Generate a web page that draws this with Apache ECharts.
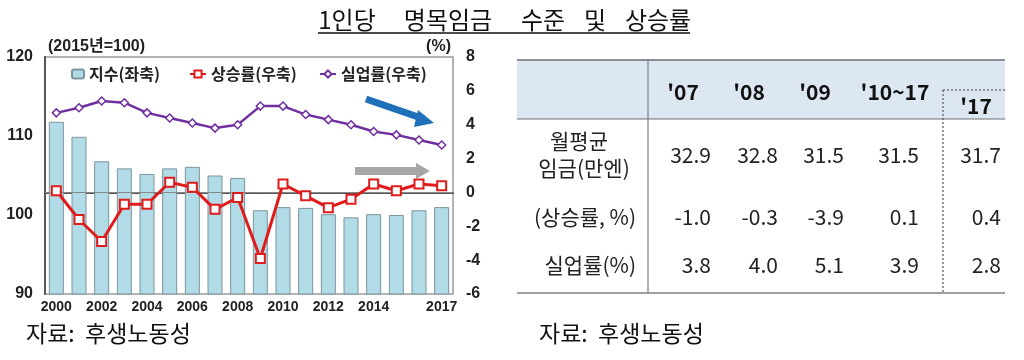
<!DOCTYPE html>
<html>
<head>
<meta charset="utf-8">
<script src="https://cdn.jsdelivr.net/npm/echarts@6/dist/echarts.min.js"></script>
<style>
html,body{margin:0;padding:0;background:#fff;}
#c{width:1024px;height:360px;}
</style>
</head>
<body>
<div id="c"></div>
<script>
// ---- Chart data ----
const years = ['2000','2001','2002','2003','2004','2005','2006','2007','2008','2009','2010','2011','2012','2013','2014','2015','2016','2017'];
const wageIndex = [111.8,109.9,106.8,105.9,105.2,105.9,106.1,105.0,104.7,100.6,101.0,100.9,100.1,99.7,100.1,100.0,100.6,101.0];
const wageGrowth = [0.1,-1.6,-2.9,-0.7,-0.7,0.6,0.3,-1.0,-0.3,-3.9,0.5,-0.2,-0.9,-0.4,0.5,0.1,0.5,0.4];
const unemployment = [4.7,5.0,5.4,5.3,4.7,4.4,4.1,3.8,4.0,5.1,5.1,4.6,4.3,4.0,3.6,3.4,3.1,2.8];
const leftTicks = {min:90, max:120, interval:10};
const rightTicks = {min:-6, max:8, interval:2};
const shownYearLabels = ['2000','2002','2004','2006','2008','2010','2012','2014','2017'];

// ---- Table data ----
const tableCols = ["'07","'08","'09","'10~17","'17"];
const rowWage = [32.9,32.8,31.5,31.5,31.7];
const rowGrowth = [-1.0,-0.3,-3.9,0.1,0.4];
const rowUnemp = [3.8,4.0,5.1,3.9,2.8];
const rowLabels = [['월평균','임금(만엔)'],['(상승률, %)'],['실업률(%)']];

const titleWords = ['1인당','명목임금','수준','및','상승률'];
const source = '자료:  후생노동성';

const KR = '"Noto Sans CJK KR", "Noto Sans", sans-serif';
const LAT = '"Liberation Sans", Arial, "Noto Sans CJK KR", sans-serif';

const chart = echarts.init(document.getElementById('c'), null, {renderer:'canvas'});

// table graphics
const colCenters = [683, 749, 815, 895, 976];
const colRight = [711, 778, 844, 919, 1001];
const g = [];
g.push({type:'rect', shape:{x:517,y:60,width:488,height:59}, style:{fill:'#dde7f2'}, z:0});
g.push({type:'line', shape:{x1:517,y1:60,x2:1005,y2:60}, style:{stroke:'#8a8f96',lineWidth:2}});
g.push({type:'line', shape:{x1:517,y1:119,x2:1005,y2:119}, style:{stroke:'#6b6f74',lineWidth:1.2}});
g.push({type:'line', shape:{x1:648,y1:60,x2:648,y2:293}, style:{stroke:'#7b7f84',lineWidth:1.2}});
g.push({type:'line', shape:{x1:517,y1:293,x2:1005,y2:293}, style:{stroke:'#7b7f84',lineWidth:1.5}});
g.push({type:'line', shape:{x1:943,y1:90,x2:943,y2:293}, style:{stroke:'#555',lineWidth:1.2,lineDash:[2,2]}});
g.push({type:'line', shape:{x1:943,y1:90,x2:1005,y2:90}, style:{stroke:'#555',lineWidth:1.2,lineDash:[2,2]}});
tableCols.forEach((t,i)=>{
  g.push({type:'text', x:colCenters[i], y:(i===4?106:92), style:{text:t, font:'bold 21px '+KR, fill:'#111', align:'center', verticalAlign:'middle'}});
});
const rowsY = [155, 217, 265];
[rowWage,rowGrowth,rowUnemp].forEach((row,r)=>{
  row.forEach((v,i)=>{
    g.push({type:'text', x:colRight[i], y:rowsY[r], style:{text:v.toFixed(1), font:'21px '+KR, fill:'#222', align:'right', verticalAlign:'middle'}});
  });
});
g.push({type:'text', x:579, y:141, style:{text:rowLabels[0][0], font:'21px '+KR, fill:'#222', align:'center', verticalAlign:'middle'}});
g.push({type:'text', x:584, y:168, style:{text:rowLabels[0][1], font:'21px '+KR, fill:'#222', align:'center', verticalAlign:'middle'}});
g.push({type:'text', x:636, y:217, style:{text:rowLabels[1][0], font:'21px '+KR, fill:'#222', align:'right', verticalAlign:'middle'}});
g.push({type:'text', x:636, y:265, style:{text:rowLabels[2][0], font:'21px '+KR, fill:'#222', align:'right', verticalAlign:'middle'}});
// title (word by word, centred) + underline
const titleX = [347, 448, 543, 595, 658];
titleWords.forEach((w,i)=>{
  g.push({type:'text', x:titleX[i], y:20, style:{text:w, font:'24px '+KR, fill:'#111', align:'center', verticalAlign:'middle'}});
});
g.push({type:'line', shape:{x1:318,y1:33,x2:690,y2:33}, style:{stroke:'#111',lineWidth:1.5}});
// sources
g.push({type:'text', x:26, y:333, style:{text:source, font:'23px '+KR, fill:'#111', align:'left', verticalAlign:'middle'}});
g.push({type:'text', x:539, y:333, style:{text:source, font:'23px '+KR, fill:'#111', align:'left', verticalAlign:'middle'}});
// axis captions
g.push({type:'text', x:48, y:47, style:{text:'(2015년=100)', font:'bold 16px '+LAT, fill:'#222', align:'left', verticalAlign:'middle'}});
g.push({type:'text', x:451, y:47, style:{text:'(%)', font:'bold 16px '+LAT, fill:'#222', align:'right', verticalAlign:'middle'}});
// arrows (annotations)
g.push({type:'line', shape:{x1:366,y1:99,x2:424,y2:119}, style:{stroke:'#1f70b8',lineWidth:7}, z:5});
g.push({type:'polygon', shape:{points:[[418,110],[434,123],[414,127]]}, style:{fill:'#1f70b8'}, z:5});
g.push({type:'line', shape:{x1:355,y1:171,x2:418,y2:171}, style:{stroke:'#a6a6a6',lineWidth:8}, z:5});
g.push({type:'polygon', shape:{points:[[416,163],[430,171],[416,179]]}, style:{fill:'#a6a6a6'}, z:5});

const legendText = {fontFamily:KR, fontWeight:'bold', fontSize:16, color:'#222'};
const option = {
  animation:false,
  backgroundColor:'#fff',
  textStyle:{fontFamily:LAT},
  grid:{left:45, top:57, width:408, height:237, show:true, borderColor:'#9a9a9a', borderWidth:1.5, backgroundColor:'transparent'},
  legend:[
    {data:['지수(좌축)'], left:66, top:61, itemWidth:12, itemHeight:9, itemGap:4, textStyle:legendText},
    {data:['상승률(우축)'], left:184, top:61, itemWidth:16, itemHeight:9, textStyle:legendText},
    {data:['실업률(우축)'], left:314, top:61, itemWidth:16, itemHeight:9, textStyle:legendText}
  ],
  xAxis:{
    type:'category', data:years,
    axisLine:{show:true, lineStyle:{color:'#555', width:2}},
    axisTick:{show:false},
    axisLabel:{interval:0, margin:6, fontFamily:LAT, fontWeight:'bold', fontSize:14, color:'#222',
      formatter:(v)=> shownYearLabels.indexOf(v)>=0 ? v : ''}
  },
  yAxis:[
    {type:'value', min:leftTicks.min, max:leftTicks.max, interval:leftTicks.interval, position:'left',
      axisLine:{show:true, lineStyle:{color:'#555', width:2}}, axisTick:{show:false}, splitLine:{show:false},
      axisLabel:{margin:12, fontFamily:LAT, fontWeight:'bold', fontSize:16, color:'#222'}},
    {type:'value', min:rightTicks.min, max:rightTicks.max, interval:rightTicks.interval, position:'right',
      axisLine:{show:false}, axisTick:{show:false}, splitLine:{show:false},
      axisLabel:{margin:13, fontFamily:LAT, fontWeight:'bold', fontSize:16, color:'#222'}}
  ],
  series:[
    {name:'지수(좌축)', type:'bar', data:wageIndex, yAxisIndex:0, barWidth:15,
      itemStyle:{color:'#b2dbe8', borderColor:'#7c949c', borderWidth:1}, z:1},
    {name:'상승률(우축)', type:'line', data:wageGrowth, yAxisIndex:1,
      symbol:'rect', symbolSize:9, showAllSymbol:true,
      lineStyle:{color:'#e01b1b', width:3}, itemStyle:{color:'#fff', borderColor:'#e01b1b', borderWidth:2}, z:4,
      markLine:{silent:true, symbol:'none', label:{show:false}, lineStyle:{color:'#888', width:1, type:'solid'}, data:[{yAxis:0}], z:2}},
    {name:'실업률(우축)', type:'line', data:unemployment, yAxisIndex:1,
      symbol:'diamond', symbolSize:8, showAllSymbol:true,
      lineStyle:{color:'#7030a0', width:2.5}, itemStyle:{color:'#fff', borderColor:'#7030a0', borderWidth:1.5}, z:4}
  ],
  graphic:g
};
chart.setOption(option);
</script>
</body>
</html>
